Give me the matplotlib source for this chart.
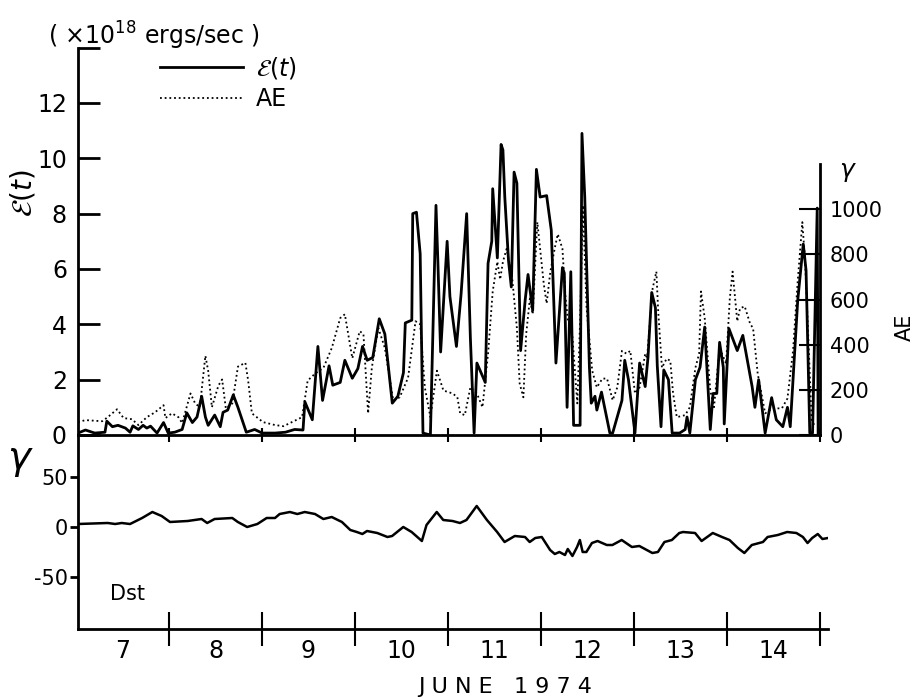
import matplotlib
matplotlib.use("Agg")
import matplotlib.pyplot as plt
from matplotlib.ticker import FixedLocator

plt.rcParams['font.family'] = ['DejaVu Sans']
plt.rcParams['axes.unicode_minus'] = False

# ---- data (time in days of June 1974, UT) ----
# energy input E(t), units of 1e18 ergs/sec
e_days = [7.02, 7.10, 7.20, 7.31, 7.33, 7.39, 7.45, 7.53, 7.58, 7.61,
          7.67, 7.72, 7.76, 7.80, 7.87, 7.94, 7.99, 8.06, 8.14, 8.19,
          8.25, 8.30, 8.35, 8.39, 8.42, 8.49, 8.55, 8.58, 8.63, 8.69,
          8.74, 8.83, 8.92, 9.00, 9.14, 9.25, 9.35, 9.44, 9.46, 9.54,
          9.60, 9.65, 9.72, 9.76, 9.84, 9.89, 9.97, 10.03, 10.08, 10.13,
          10.19, 10.26, 10.32, 10.40, 10.46, 10.52, 10.54, 10.61, 10.62, 10.66,
          10.70, 10.73, 10.81, 10.87, 10.89, 10.92, 10.99, 11.02, 11.09, 11.14,
          11.20, 11.24, 11.28, 11.31, 11.40, 11.43, 11.47, 11.48, 11.53, 11.57,
          11.59, 11.61, 11.65, 11.68, 11.71, 11.74, 11.78, 11.83, 11.86, 11.91,
          11.95, 11.99, 12.06, 12.11, 12.16, 12.23, 12.25, 12.28, 12.32, 12.35,
          12.42, 12.44, 12.47, 12.52, 12.54, 12.58, 12.60, 12.65, 12.74, 12.77,
          12.87, 12.90, 12.94, 13.01, 13.06, 13.12, 13.15, 13.19, 13.23, 13.25,
          13.29, 13.32, 13.37, 13.41, 13.49, 13.55, 13.57, 13.60, 13.66, 13.71,
          13.76, 13.82, 13.85, 13.89, 13.92, 13.96, 13.97, 14.02, 14.11, 14.17,
          14.27, 14.30, 14.34, 14.41, 14.48, 14.53, 14.60, 14.65, 14.68, 14.76,
          14.82, 14.85, 14.89, 14.92, 14.97, 14.98]
e_vals = [0.07, 0.18, 0.07, 0.1, 0.5, 0.3, 0.35, 0.25, 0.1, 0.33,
          0.2, 0.35, 0.25, 0.32, 0.07, 0.45, 0.07, 0.1, 0.2, 0.8,
          0.45, 0.65, 1.4, 0.65, 0.35, 0.72, 0.3, 0.82, 0.9, 1.45,
          1.0, 0.1, 0.2, 0.07, 0.07, 0.1, 0.2, 0.18, 1.2, 0.55,
          3.2, 1.25, 2.5, 1.8, 1.9, 2.7, 2.05, 2.4, 3.2, 2.7,
          2.8, 4.2, 3.65, 1.15, 1.4, 2.25, 4.05, 4.15, 8.0, 8.05,
          6.55, 0.07, 0.0, 8.3, 6.3, 3.0, 7.0, 5.0, 3.2, 5.1,
          8.0, 3.5, 0.07, 2.6, 1.9, 6.2, 7.0, 8.9, 6.4, 10.5,
          10.3, 8.6, 6.3, 5.35, 9.5, 9.1, 3.05, 4.9, 5.8, 4.5,
          9.6, 8.6, 8.65, 7.4, 2.6, 6.05, 5.85, 1.0, 5.9, 0.35,
          0.35, 10.9, 8.6, 2.45, 1.15, 1.4, 0.9, 1.55, 0.07, 0.07,
          1.25, 2.7, 2.0, 0.07, 2.6, 1.75, 2.8, 5.15, 4.6, 2.5,
          0.3, 2.35, 2.0, 0.07, 0.07, 0.2, 0.65, 0.07, 2.0, 2.45,
          3.9, 0.2, 1.5, 1.5, 3.35, 2.45, 0.4, 3.85, 3.05, 3.6,
          1.75, 1.0, 2.0, 0.07, 1.35, 0.55, 0.3, 1.0, 0.3, 4.85,
          6.9, 5.95, 0.07, 0.07, 8.2, 0.07]

# AE index (gamma)
ae_days = [7.02, 7.10, 7.28, 7.34, 7.44, 7.51, 7.60, 7.67, 7.76, 7.85,
           7.94, 7.96, 8.03, 8.10, 8.14, 8.23, 8.28, 8.33, 8.39, 8.42,
           8.46, 8.53, 8.57, 8.61, 8.68, 8.74, 8.82, 8.85, 8.89, 9.01,
           9.14, 9.23, 9.32, 9.43, 9.49, 9.57, 9.66, 9.75, 9.84, 9.89,
           9.97, 10.05, 10.09, 10.14, 10.18, 10.25, 10.32, 10.41, 10.48, 10.57,
           10.65, 10.70, 10.75, 10.81, 10.88, 10.95, 11.05, 11.10, 11.13, 11.18,
           11.24, 11.31, 11.37, 11.43, 11.48, 11.53, 11.56, 11.59, 11.63, 11.69,
           11.74, 11.77, 11.81, 11.84, 11.88, 11.91, 11.96, 11.99, 12.03, 12.06,
           12.10, 12.15, 12.18, 12.23, 12.26, 12.29, 12.33, 12.39, 12.42, 12.45,
           12.49, 12.55, 12.60, 12.66, 12.71, 12.77, 12.82, 12.87, 12.92, 12.96,
           13.01, 13.06, 13.12, 13.14, 13.20, 13.24, 13.26, 13.30, 13.35, 13.39,
           13.42, 13.46, 13.55, 13.60, 13.66, 13.70, 13.72, 13.76, 13.82, 13.86,
           13.92, 13.99, 14.03, 14.06, 14.11, 14.14, 14.19, 14.25, 14.28, 14.33,
           14.41, 14.49, 14.59, 14.65, 14.71, 14.76, 14.81, 14.84, 14.87, 14.91,
           14.95]
ae_vals = [57, 66, 61, 79, 114, 75, 70, 44, 79, 101,
           132, 75, 96, 79, 53, 184, 140, 123, 351, 285,
           123, 219, 246, 118, 140, 303, 320, 241, 96, 57,
           44, 39, 57, 79, 241, 272, 298, 386, 518, 535,
           340, 460, 447, 96, 298, 474, 386, 154, 167, 254,
           504, 491, 211, 79, 285, 197, 184, 167, 96, 88,
           211, 184, 123, 360, 636, 768, 689, 768, 825, 693,
           474, 228, 167, 447, 605, 535, 943, 825, 667, 583,
           724, 833, 890, 825, 623, 504, 474, 140, 504, 1018,
           561, 285, 211, 250, 250, 154, 211, 373, 360, 373,
           184, 211, 360, 342, 649, 724, 548, 298, 338, 329,
           184, 79, 88, 123, 298, 360, 636, 518, 197, 123,
           386, 316, 605, 724, 504, 561, 570, 491, 474, 272,
           96, 118, 118, 162, 373, 680, 943, 768, 474, 66,
           35]

# Dst index (gamma)
dst_days = [7.02, 7.34, 7.42, 7.49, 7.58, 7.71, 7.82, 7.92, 8.01, 8.20,
            8.35, 8.41, 8.49, 8.68, 8.74, 8.84, 8.95, 9.05, 9.14, 9.19,
            9.30, 9.38, 9.46, 9.57, 9.66, 9.75, 9.86, 9.95, 10.02, 10.08,
            10.13, 10.24, 10.35, 10.40, 10.52, 10.61, 10.72, 10.77, 10.88, 10.95,
            11.05, 11.13, 11.20, 11.31, 11.42, 11.53, 11.61, 11.72, 11.83, 11.88,
            11.94, 12.01, 12.10, 12.15, 12.20, 12.26, 12.29, 12.34, 12.39, 12.42,
            12.45, 12.49, 12.55, 12.61, 12.71, 12.77, 12.87, 12.98, 13.06, 13.20,
            13.26, 13.33, 13.41, 13.49, 13.53, 13.66, 13.73, 13.85, 13.95, 14.03,
            14.12, 14.19, 14.27, 14.39, 14.44, 14.55, 14.65, 14.75, 14.82, 14.87,
            14.92, 14.98, 15.03, 15.09]
dst_vals = [3, 4, 3, 4, 3, 9, 15, 11, 5, 6,
            8, 4, 8, 9, 5, 0, 3, 9, 9, 13,
            15, 13, 15, 13, 8, 10, 5, -3, -5, -7,
            -4, -6, -10, -9, 0, -5, -14, 2, 15, 7,
            6, 4, 7, 21, 7, -5, -15, -9, -10, -15,
            -11, -10, -23, -27, -25, -28, -22, -29, -20, -13,
            -25, -25, -16, -14, -18, -18, -13, -20, -19, -26,
            -25, -15, -13, -6, -5, -6, -14, -6, -10, -13,
            -21, -26, -18, -15, -10, -8, -5, -6, -10, -16,
            -11, -7, -12, -11]

day_names = ['7', '8', '9', '10', '11', '12', '13', '14']
e_ticks = [0, 2, 4, 6, 8, 10, 12, 14]
ae_ticks = [0, 200, 400, 600, 800, 1000]
dst_ticks = [-50, 0, 50]

W, H = 917, 698


def box(x0, y0, x1, y1):
    # pixel box (top-left origin) -> figure fraction rect
    return [x0 / W, 1 - y1 / H, (x1 - x0) / W, (y1 - y0) / H]


fig = plt.figure(figsize=(W / 100, H / 100), dpi=100)

#######----------- TOP PANEL: E(t) and AE ---------------########
ax = fig.add_axes(box(78, 47.6, 820, 435))
ax2 = ax.twinx()

line_e, = ax.plot(e_days, e_vals, color='black', lw=2.0)
line_ae, = ax2.plot(ae_days, ae_vals, color='black', lw=1.3, ls=(0, (1, 1.6)))

ax.set_xlim(7.02, 15.0)
ax.set_ylim(0, 14)
ax2.set_ylim(0, 14 * 122.6)   # AE 1000 sits at E ~ 8.15

for s in ['top', 'right']:
    ax.spines[s].set_visible(False)
for s in ['top', 'left', 'bottom']:
    ax2.spines[s].set_visible(False)
ax.spines['left'].set_linewidth(2)
ax.spines['bottom'].set_linewidth(2)
ax2.spines['right'].set_linewidth(2)
ax2.spines['right'].set_bounds(0, 1200)

ax.set_yticks(e_ticks)
ax.set_yticklabels([str(v) for v in e_ticks[:-1]] + [''])
ax.tick_params(axis='y', direction='in', length=16, width=2, pad=8, labelsize=17)
ax.set_xticks(range(8, 16))
ax.tick_params(axis='x', direction='inout', length=10, width=1.5, labelbottom=False)

ax2.set_yticks(ae_ticks)
ax2.tick_params(axis='y', direction='in', length=15, width=1.5, pad=7, labelsize=15)

ax.legend([line_e, line_ae], [r'$\mathcal{E}(t)$', 'AE'], loc='upper left',
          bbox_to_anchor=(160 / W, 1 - 55 / H), bbox_transform=fig.transFigure,
          frameon=False, handlelength=3.5, handletextpad=0.55, fontsize=17,
          labelspacing=0.25, borderpad=0, borderaxespad=0)

#######----------- BOTTOM PANEL: Dst ---------------########
axd = fig.add_axes(box(78, 435, 828, 629))
axd.plot(dst_days, dst_vals, color='black', lw=1.8)
axd.set_xlim(7.02, 15.09)
axd.set_ylim(-102, 92)
axd.patch.set_alpha(0)

for s in ['top', 'right']:
    axd.spines[s].set_visible(False)
axd.spines['left'].set_linewidth(2)
axd.spines['bottom'].set_linewidth(2)

axd.set_yticks(dst_ticks)
axd.set_yticklabels([str(v) for v in dst_ticks])
axd.tick_params(axis='y', direction='out', length=6, width=2, pad=1, labelsize=15)

axd.xaxis.set_major_locator(FixedLocator(range(8, 16)))
axd.xaxis.set_minor_locator(FixedLocator([d + 0.5 for d in range(7, 15)]))
axd.set_xticklabels([], minor=False)
axd.set_xticklabels(day_names, minor=True)
axd.tick_params(axis='x', which='major', direction='inout', length=25, width=1.5)
axd.tick_params(axis='x', which='minor', length=0, pad=7, labelsize=17)

#######----------- LABELS ---------------########
fig.text(48 / W, 1 - 45 / H, r'( $\times$10$^{18}$ ergs/sec )', fontsize=17, va='baseline')
fig.text(23 / W, 1 - 193 / H, r'$\mathcal{E}(t)$', rotation=90, fontsize=20,
         ha='center', va='center')
fig.text(848 / W, 1 - 172 / H, r'$\gamma$', fontsize=18, ha='center', va='center')
fig.text(905 / W, 1 - 327 / H, 'AE', rotation=90, fontsize=15, ha='center', va='center')
fig.text(20 / W, 1 - 460 / H, r'$\gamma$', fontsize=28, ha='center', va='center')
fig.text(128 / W, 1 - 594 / H, 'Dst', fontsize=15, ha='center', va='center')
fig.text(505 / W, 1 - 687 / H, 'J U N E   1 9 7 4', fontsize=16, ha='center', va='center')

fig.savefig('out.png', dpi=100)
